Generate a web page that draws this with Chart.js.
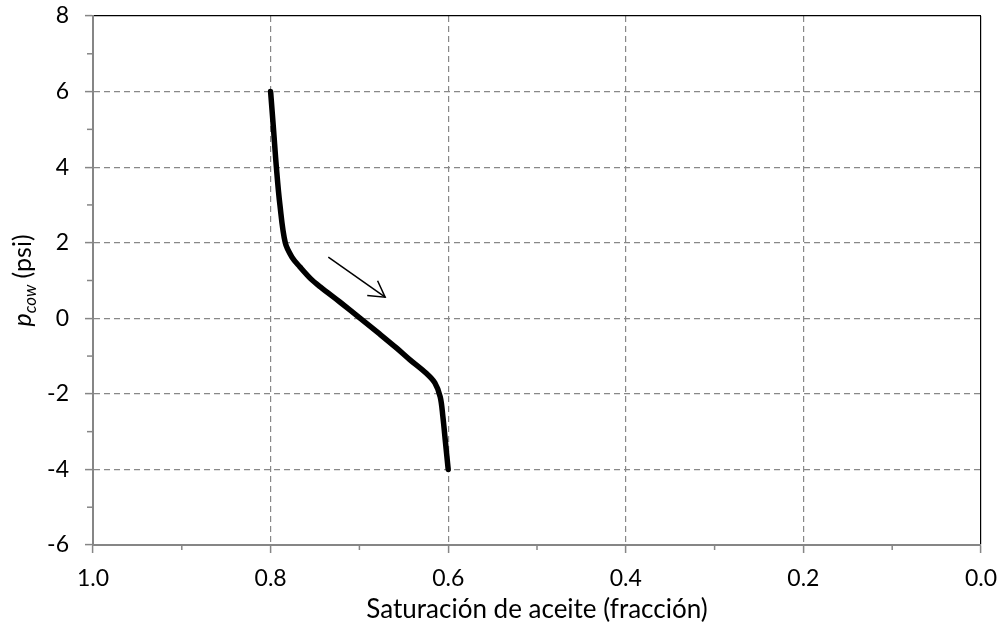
<!DOCTYPE html>
<html>
<head>
<meta charset="utf-8">
<script src="https://cdn.jsdelivr.net/npm/chart.js@4.4.0/dist/chart.umd.min.js"></script>
<style>
  body { margin: 0; background: #fff; }
  #wrap { width: 1003px; height: 626px; }
</style>
</head>
<body>
<div id="wrap"><canvas id="pcChart" width="1003" height="626"></canvas></div>
<script>
// Curve
const oilSat = [0.8, 0.7967, 0.7935, 0.7895, 0.7835, 0.776, 0.767, 0.755, 0.744, 0.722, 0.699, 0.678, 0.658, 0.643, 0.625, 0.615, 0.609, 0.606, 0.603, 0.6];
const pcow = [6, 5, 4, 3, 2, 1.62, 1.36, 1.05, 0.83, 0.43, 0.0, -0.4, -0.79, -1.1, -1.45, -1.71, -2.08, -2.6, -3.3, -4];

// Arrow (start, end) in data units
const arrowX = [0.735, 0.671];
const arrowY = [1.62, 0.56];

const xMin = 0, xMax = 1;
const yMin = -6, yMax = 8;
const xTitle = "Saturación de aceite (fracción)";

const FONT = "Lato";
const GRID = "#888888";
const AXIS = "#868686";

const isMajorX = (v) => Math.round(v * 10) % 2 === 0;
const isMajorY = (v) => Math.round(v) % 2 === 0;

// extra drawing: minor ticks, arrow head, y axis title with subscript
const extras = {
  id: "extras",
  afterDraw(chart) {
    const ctx = chart.ctx;
    const xs = chart.scales.x;
    const ys = chart.scales.y;
    ctx.save();
    ctx.strokeStyle = AXIS;
    ctx.lineWidth = 1.5;
    ys.ticks.forEach((t) => {
      if (isMajorY(t.value)) return;
      const py = ys.getPixelForValue(t.value);
      ctx.beginPath();
      ctx.moveTo(ys.right - 6, py);
      ctx.lineTo(ys.right, py);
      ctx.stroke();
    });
    xs.ticks.forEach((t) => {
      if (isMajorX(t.value)) return;
      const px = xs.getPixelForValue(t.value);
      ctx.beginPath();
      ctx.moveTo(px, xs.top);
      ctx.lineTo(px, xs.top + 5);
      ctx.stroke();
    });

    // arrow head
    const x0 = xs.getPixelForValue(arrowX[0]), y0 = ys.getPixelForValue(arrowY[0]);
    const x1 = xs.getPixelForValue(arrowX[1]), y1 = ys.getPixelForValue(arrowY[1]);
    const ang = Math.atan2(y1 - y0, x1 - x0);
    const len = 18;
    ctx.strokeStyle = "#000";
    ctx.lineWidth = 1.5;
    ctx.beginPath();
    ctx.moveTo(x1 + len * Math.cos(ang + Math.PI - Math.PI / 6), y1 + len * Math.sin(ang + Math.PI - Math.PI / 6));
    ctx.lineTo(x1, y1);
    ctx.lineTo(x1 + len * Math.cos(ang + Math.PI + Math.PI / 6), y1 + len * Math.sin(ang + Math.PI + Math.PI / 6));
    ctx.stroke();

    // y title: p_cow (psi)
    const cy = (chart.chartArea.top + chart.chartArea.bottom) / 2;
    ctx.translate(31, cy);
    ctx.rotate(-Math.PI / 2);
    ctx.fillStyle = "#000";
    ctx.textBaseline = "alphabetic";
    const f1 = "italic 25px " + FONT;
    const f2 = "italic 17px " + FONT;
    const f3 = "25px " + FONT;
    ctx.font = f1; const w1 = ctx.measureText("p").width;
    ctx.font = f2; const w2 = ctx.measureText("cow").width;
    ctx.font = f3; const w3 = ctx.measureText(" (psi)").width;
    let x = -(w1 + w2 + w3) / 2;
    ctx.font = f1; ctx.fillText("p", x, 0); x += w1;
    ctx.font = f2; ctx.fillText("cow", x, 5); x += w2;
    ctx.font = f3; ctx.fillText(" (psi)", x, 0);
    ctx.restore();
  }
};

new Chart(document.getElementById("pcChart"), {
  type: "scatter",
  data: {
    datasets: [
      {
        data: oilSat.map((s, i) => ({ x: s, y: pcow[i] })),
        showLine: true,
        borderColor: "#000",
        borderWidth: 5.5,
        borderCapStyle: "round",
        borderJoinStyle: "round",
        tension: 0.35,
        pointRadius: 0,
      },
      {
        data: arrowX.map((s, i) => ({ x: s, y: arrowY[i] })),
        showLine: true,
        borderColor: "#000",
        borderWidth: 1.5,
        pointRadius: 0,
      },
    ],
  },
  options: {
    responsive: false,
    animation: false,
    layout: { padding: { top: 16, right: 22, left: 0, bottom: 0 } },
    plugins: { legend: { display: false }, tooltip: { enabled: false } },
    scales: {
      x: {
        type: "linear",
        reverse: true,
        min: xMin,
        max: xMax,
        afterFit: (s) => {
          s.height = 81;
          s.paddingLeft = 0;
          s.paddingRight = 0;
        },
        ticks: {
          stepSize: 0.1,
          autoSkip: false,
          maxRotation: 0,
          padding: 12,
          color: "#000",
          font: { family: FONT, size: 23 },
          callback: (v) => (isMajorX(v) ? v.toFixed(1) : ""),
        },
        grid: {
          color: (c) => {
            const v = c.tick ? c.tick.value : 0;
            if (Math.abs(v) < 1e-9) return "#000";
            if (Math.abs(v - 1) < 1e-9) return "rgba(0,0,0,0)";
            return isMajorX(v) ? GRID : "rgba(0,0,0,0)";
          },
          lineWidth: 1.2,
          tickColor: (c) => (c.tick && isMajorX(c.tick.value) ? AXIS : "rgba(0,0,0,0)"),
          tickLength: 8,
          tickWidth: 1.5,
        },
        border: {
          color: AXIS,
          width: 2,
          dash: (c) => (c.tick && Math.abs(c.tick.value) < 1e-9 ? [] : [6, 4]),
        },
        title: {
          display: true,
          text: xTitle,
          color: "#000",
          font: { family: FONT, size: 26 },
          padding: { top: 0, bottom: 1 },
        },
      },
      y: {
        type: "linear",
        min: yMin,
        max: yMax,
        afterFit: (s) => {
          s.width = 93;
          s.paddingTop = 0;
          s.paddingBottom = 0;
        },
        ticks: {
          stepSize: 1,
          autoSkip: false,
          padding: 16,
          color: "#000",
          font: { family: FONT, size: 23 },
          callback: (v) => (isMajorY(v) ? String(v) : ""),
        },
        grid: {
          color: (c) => {
            const v = c.tick ? c.tick.value : 0;
            if (v === yMax) return "#000";
            if (v === yMin) return "rgba(0,0,0,0)";
            return isMajorY(v) ? GRID : "rgba(0,0,0,0)";
          },
          lineWidth: 1.2,
          tickColor: (c) => (c.tick && isMajorY(c.tick.value) ? AXIS : "rgba(0,0,0,0)"),
          tickLength: 8,
          tickWidth: 1.5,
        },
        border: {
          color: AXIS,
          width: 2,
          dash: (c) => (c.tick && c.tick.value === yMax ? [] : [6, 4]),
        },
      },
    },
  },
  plugins: [extras],
});
</script>
</body>
</html>
